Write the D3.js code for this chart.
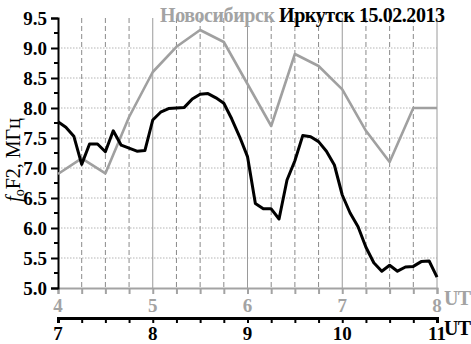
<!DOCTYPE html>
<html>
<head>
<meta charset="utf-8">
<script src="https://cdn.jsdelivr.net/npm/d3@7"></script>
<style>
  body { margin: 0; background: #fff; }
  svg { display: block; }
  text { font-family: "Liberation Serif", "Times New Roman", serif; }
</style>
</head>
<body>
<div id="chart"></div>
<script>
// Новосибирск, UT (15 min step)
const novoTime = [4, 4.25, 4.5, 4.75, 5, 5.25, 5.5, 5.75, 6, 6.25, 6.5, 6.75, 7, 7.25, 7.5, 7.75, 8];
const novoF0F2 = [6.9, 7.16, 6.91, 7.85, 8.6, 9.02, 9.3, 9.1, 8.4, 7.7, 8.9, 8.7, 8.31, 7.62, 7.1, 8.0, 8.0];

// Иркутск, UT (5 min step)
const irkTime = [4, 4.083, 4.167, 4.25, 4.333, 4.417, 4.5, 4.583, 4.667, 4.75, 4.833, 4.917,
  5, 5.083, 5.167, 5.25, 5.333, 5.417, 5.5, 5.583, 5.667, 5.75, 5.833, 5.917,
  6, 6.083, 6.167, 6.25, 6.333, 6.417, 6.5, 6.583, 6.667, 6.75, 6.833, 6.917,
  7, 7.083, 7.167, 7.25, 7.333, 7.417, 7.5, 7.583, 7.667, 7.75, 7.833, 7.917, 8];
const irkF0F2 = [7.77, 7.68, 7.53, 7.06, 7.4, 7.4, 7.27, 7.62, 7.38, 7.33, 7.28, 7.29,
  7.8, 7.93, 7.99, 8.0, 8.01, 8.15, 8.23, 8.24, 8.17, 8.08, 7.82, 7.52,
  7.19, 6.41, 6.32, 6.32, 6.15, 6.8, 7.12, 7.54, 7.52, 7.44, 7.28, 7.05,
  6.55, 6.25, 6.02, 5.68, 5.42, 5.28, 5.38, 5.28, 5.35, 5.36, 5.44, 5.45, 5.18];

const utTicks = [4, 5, 6, 7, 8];        // нижняя серая шкала
const localTicks = [7, 8, 9, 10, 11];   // чёрная шкала
const yTicks = [5.0, 5.5, 6.0, 6.5, 7.0, 7.5, 8.0, 8.5, 9.0, 9.5];

const W = 471, H = 344;
const grey = '#a3a3a3';
const m = { left: 58, right: 437, top: 18, bottom: 288 };

const svg = d3.select('#chart').append('svg').attr('width', W).attr('height', H);

const x = d3.scaleLinear().domain([4, 8]).range([m.left, m.right]);
const x2 = d3.scaleLinear().domain([7, 11]).range([m.left, m.right]);
const y = d3.scaleLinear().domain([5, 9.5]).range([m.bottom, m.top]);

const quarters = d3.range(4, 8.001, 0.25);

// grid
const grid = svg.append('g');
grid.selectAll('.hg')
  .data(yTicks.filter(d => d > 5 && d < 9.5))
  .enter().append('line')
  .attr('x1', m.left).attr('x2', m.right)
  .attr('y1', d => y(d)).attr('y2', d => y(d))
  .attr('stroke', '#b5b5b5').attr('stroke-width', 1)
  .attr('stroke-dasharray', '1.5,1.5');
grid.selectAll('.vg')
  .data(quarters.filter(d => d > 4))
  .enter().append('line')
  .attr('x1', d => x(d)).attr('x2', d => x(d))
  .attr('y1', m.top).attr('y2', m.bottom)
  .attr('stroke', d => Number.isInteger(d) ? '#9a9a9a' : '#8a8a8a')
  .attr('stroke-width', 1)
  .attr('stroke-dasharray', d => Number.isInteger(d) ? null : '5,3');

// lower UT axis (grey)
const ax1 = svg.append('g').attr('transform', `translate(0,${m.bottom})`)
  .call(d3.axisBottom(x).tickValues(quarters).tickSize(6).tickFormat(''));
ax1.select('.domain').attr('stroke', grey).attr('stroke-width', 2);
ax1.selectAll('.tick line').attr('stroke', grey).attr('stroke-width', 2);
svg.append('g').selectAll('text').data(utTicks).enter().append('text')
  .attr('x', d => x(d)).attr('y', 312)
  .attr('text-anchor', 'middle')
  .attr('font-size', 19).attr('font-weight', 'bold').attr('fill', grey)
  .text(d => d);
svg.append('text').attr('x', 444).attr('y', 305)
  .attr('font-size', 20).attr('font-weight', 'bold').attr('fill', grey)
  .attr('textLength', 27).text('UT');

// black axis
const ax2 = svg.append('g').attr('transform', 'translate(0,318)')
  .call(d3.axisBottom(x2).tickValues(d3.range(7, 11.001, 0.25)).tickSize(5).tickFormat(''));
ax2.select('.domain').attr('stroke', '#000').attr('stroke-width', 3);
ax2.selectAll('.tick line').attr('stroke', '#000').attr('stroke-width', 2);
svg.append('g').selectAll('text').data(localTicks).enter().append('text')
  .attr('x', d => x2(d)).attr('y', 340)
  .attr('text-anchor', 'middle')
  .attr('font-size', 19).attr('font-weight', 'bold').attr('fill', '#000')
  .text(d => d);
svg.append('text').attr('x', 444).attr('y', 335)
  .attr('font-size', 20).attr('font-weight', 'bold').attr('fill', '#000')
  .attr('textLength', 27).text('UT');

// y axis
const ay = svg.append('g').attr('transform', `translate(${m.left},0)`)
  .call(d3.axisLeft(y).tickValues(yTicks).tickSize(7).tickFormat(d3.format('.1f')));
ay.select('.domain').attr('stroke', '#000').attr('stroke-width', 2);
ay.selectAll('.tick line').attr('stroke', '#000').attr('stroke-width', 2);
ay.selectAll('.tick text')
  .attr('font-family', '"Liberation Serif", serif')
  .attr('font-size', 19).attr('font-weight', 'bold').attr('fill', '#000')
  .attr('dx', '-1');
ay.append('g').selectAll('line')
  .data(d3.range(5.25, 9.5, 0.5)).enter().append('line')
  .attr('x1', -4).attr('x2', 0)
  .attr('y1', d => y(d)).attr('y2', d => y(d))
  .attr('stroke', '#000').attr('stroke-width', 2);

// y label
const yl = svg.append('text')
  .attr('transform', 'translate(20,160) rotate(-90)')
  .attr('text-anchor', 'middle')
  .attr('font-size', 20).attr('fill', '#000');
yl.append('tspan').attr('font-style', 'italic').text('f');
yl.append('tspan').attr('font-size', 14).attr('dy', 4).text('o');
yl.append('tspan').attr('dy', -4).text('F2, МГц');

// lines
const line = d3.line().x(d => x(d[0])).y(d => y(d[1]));
svg.append('path')
  .datum(d3.zip(novoTime, novoF0F2))
  .attr('d', line).attr('fill', 'none')
  .attr('stroke', '#a0a0a0').attr('stroke-width', 2.6).attr('stroke-linejoin', 'round');
svg.append('path')
  .datum(d3.zip(irkTime, irkF0F2))
  .attr('d', line).attr('fill', 'none')
  .attr('stroke', '#000').attr('stroke-width', 3).attr('stroke-linejoin', 'round');

// title
svg.append('text').attr('x', 160).attr('y', 22)
  .attr('font-size', 20).attr('font-weight', 'bold').attr('fill', grey)
  .attr('textLength', 115).text('Новосибирск');
svg.append('text').attr('x', 279).attr('y', 22)
  .attr('font-size', 20).attr('font-weight', 'bold').attr('fill', '#000')
  .attr('textLength', 166).text('Иркутск 15.02.2013');
</script>
</body>
</html>
